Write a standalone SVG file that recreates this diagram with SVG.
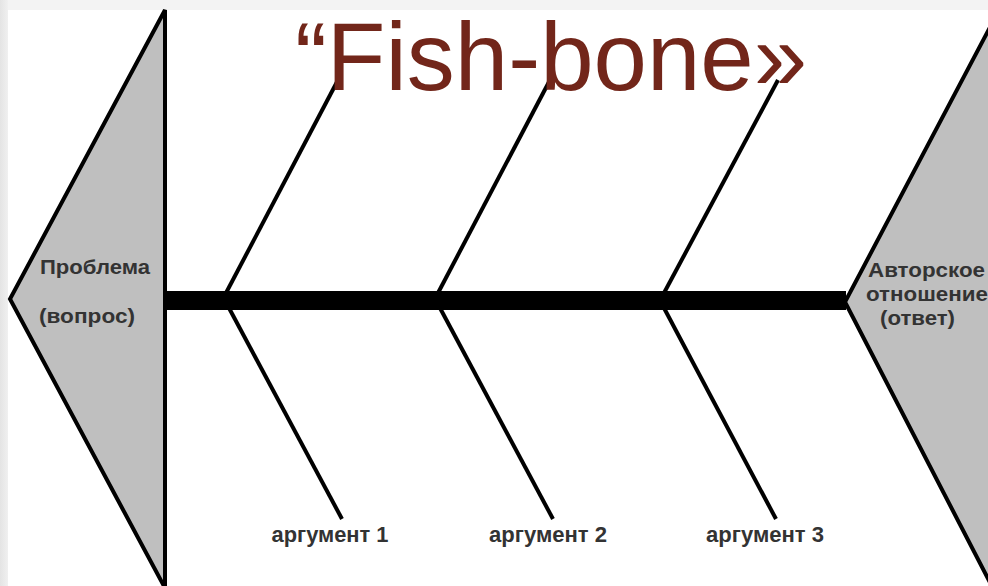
<svg xmlns="http://www.w3.org/2000/svg" width="988" height="586" viewBox="0 0 988 586">
  <defs>
    <linearGradient id="edge" x1="0" y1="0" x2="1" y2="0">
      <stop offset="0" stop-color="#e4e4e4"/>
      <stop offset="1" stop-color="#f0f0f0"/>
    </linearGradient>
  </defs>
  <style>
    .head { fill: #bfbfbf; stroke: #000; stroke-width: 4; stroke-linejoin: miter; }
    .bone { stroke: #000; stroke-width: 4; fill: none; stroke-linecap: butt; }
    .lbl { font-family: "Liberation Sans", Arial, sans-serif; font-weight: bold; fill: #333; }
    .title { font-family: "Liberation Sans", Arial, sans-serif; fill: #72261a; }
  </style>
  <rect x="0" y="0" width="988" height="586" fill="#f3f3f3"/>
  <rect x="0" y="0" width="8" height="586" fill="url(#edge)"/>
  <rect x="8" y="10" width="980" height="576" fill="#ffffff"/>

  <g id="problem">
    <polygon class="head" points="165,10 10,299 165,588"/>
    <text class="lbl" x="40" y="274" font-size="21" textLength="110" lengthAdjust="spacingAndGlyphs">Проблема</text>
    <text class="lbl" x="39" y="323" font-size="21" textLength="96" lengthAdjust="spacingAndGlyphs">(вопрос)</text>
  </g>

  <g id="answer">
    <polygon class="head" points="998,12 845,302 998,598"/>
    <text class="lbl" x="868" y="277" font-size="20" textLength="117" lengthAdjust="spacingAndGlyphs">Авторское</text>
    <text class="lbl" x="866" y="301" font-size="20" textLength="122" lengthAdjust="spacingAndGlyphs">отношение</text>
    <text class="lbl" x="880" y="325" font-size="20" textLength="75" lengthAdjust="spacingAndGlyphs">(ответ)</text>
  </g>

  <g id="connectors">
    <rect id="spine" x="165" y="291" width="681" height="19" fill="#000"/>
    <line class="bone" x1="226" y1="293" x2="338" y2="80"/>
    <line class="bone" x1="438" y1="293" x2="550" y2="80"/>
    <line class="bone" x1="664" y1="293" x2="778" y2="80"/>
    <line class="bone" x1="229" y1="308" x2="342" y2="519"/>
    <line class="bone" x1="440" y1="308" x2="553" y2="519"/>
    <line class="bone" x1="664" y1="308" x2="776" y2="519"/>
  </g>

  <g id="arg1">
    <text class="lbl" x="330" y="542" font-size="22" text-anchor="middle" textLength="117" lengthAdjust="spacingAndGlyphs">аргумент 1</text>
  </g>
  <g id="arg2">
    <text class="lbl" x="548" y="542" font-size="22" text-anchor="middle" textLength="118" lengthAdjust="spacingAndGlyphs">аргумент 2</text>
  </g>
  <g id="arg3">
    <text class="lbl" x="765" y="542" font-size="22" text-anchor="middle" textLength="118" lengthAdjust="spacingAndGlyphs">аргумент 3</text>
  </g>

  <g id="title">
    <text class="title" x="551" y="90" font-size="96" text-anchor="middle">“Fish-bone»</text>
  </g>
</svg>
